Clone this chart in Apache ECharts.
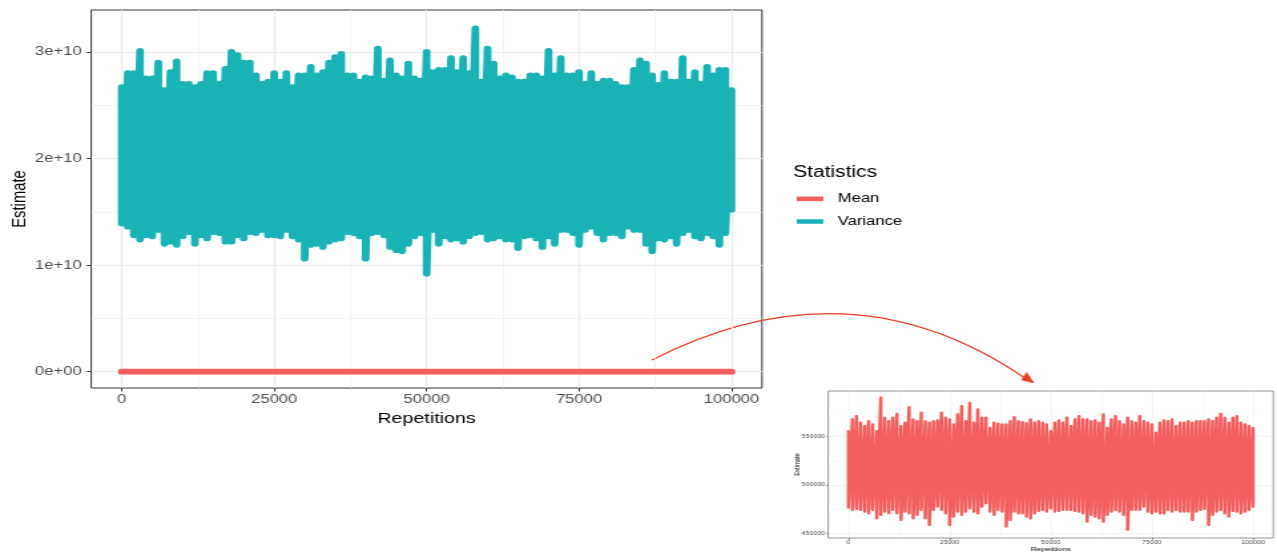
<!DOCTYPE html>
<html>
<head>
<meta charset="utf-8">
<script src="https://cdn.jsdelivr.net/npm/echarts@6/dist/echarts.min.js"></script>
<style>
  html, body { margin: 0; padding: 0; background: #ffffff; }
  #frame { width: 1277px; height: 553px; overflow: hidden; }
  /* the figure is laid out narrow and widened horizontally, like the exported plot */
  #chart { width: 960px; height: 553px; transform: scaleX(1.3302); transform-origin: 0 0; }
</style>
</head>
<body>
<div id="frame"><div id="chart"></div></div>
<script>
// ---- data: upper / lower extremes of each block of 1000 repetitions ----
const REP_STEP = 1000;          // repetitions per block
const VAR_UNIT = 1e10;          // variance values below are in units of 1e10

const varianceHigh = [
  2.67, 2.80, 2.80, 3.01, 2.75, 2.75, 2.90, 2.64, 2.81, 2.91,
  2.70, 2.70, 2.67, 2.70, 2.80, 2.80, 2.70, 2.84, 3.00, 2.97,
  2.90, 2.90, 2.78, 2.70, 2.72, 2.80, 2.72, 2.80, 2.67, 2.78,
  2.78, 2.86, 2.78, 2.81, 2.90, 2.95, 2.98, 2.78, 2.78, 2.72,
  2.76, 2.75, 3.03, 2.73, 2.92, 2.78, 2.75, 2.89, 2.75, 2.73,
  3.00, 2.81, 2.83, 2.83, 2.94, 2.81, 2.94, 2.80, 3.22, 2.72,
  3.03, 2.89, 2.75, 2.78, 2.76, 2.72, 2.72, 2.78, 2.78, 2.75,
  3.01, 2.78, 2.94, 2.78, 2.78, 2.81, 2.70, 2.80, 2.70, 2.73,
  2.73, 2.70, 2.67, 2.67, 2.83, 2.92, 2.89, 2.78, 2.69, 2.80,
  2.72, 2.72, 2.94, 2.72, 2.81, 2.70, 2.86, 2.78, 2.83, 2.83,
  2.64
];
const varianceLow = [
  1.39, 1.36, 1.28, 1.24, 1.28, 1.27, 1.33, 1.20, 1.22, 1.19,
  1.27, 1.31, 1.20, 1.28, 1.25, 1.31, 1.30, 1.22, 1.22, 1.28,
  1.25, 1.31, 1.30, 1.33, 1.28, 1.28, 1.27, 1.33, 1.27, 1.24,
  1.06, 1.19, 1.20, 1.17, 1.22, 1.24, 1.25, 1.31, 1.30, 1.27,
  1.06, 1.30, 1.31, 1.28, 1.17, 1.14, 1.13, 1.20, 1.27, 1.30,
  0.92, 1.33, 1.20, 1.27, 1.24, 1.25, 1.22, 1.27, 1.30, 1.31,
  1.24, 1.25, 1.27, 1.24, 1.24, 1.16, 1.27, 1.28, 1.25, 1.17,
  1.27, 1.20, 1.33, 1.33, 1.30, 1.19, 1.33, 1.36, 1.30, 1.24,
  1.30, 1.30, 1.27, 1.36, 1.33, 1.33, 1.20, 1.13, 1.25, 1.24,
  1.27, 1.20, 1.30, 1.33, 1.27, 1.25, 1.30, 1.27, 1.19, 1.30,
  1.52
];
const meanHigh = [
  555700, 567800, 571200, 564300, 560900, 566000, 562600, 555700, 590200, 569500,
  566000, 569500, 573600, 560900, 564300, 580500, 567800, 566000, 574700, 566000,
  564300, 566000, 566700, 574700, 569500, 567800, 562600, 572900, 581600, 566000,
  585000, 564300, 578100, 569500, 569500, 559100, 564300, 563300, 562600, 562600,
  566000, 570200, 566000, 565000, 564000, 567800, 564300, 566000, 564300, 562600,
  555700, 564300, 566700, 564300, 569500, 560900, 567800, 571200, 567800, 567800,
  566000, 566700, 564300, 572900, 559100, 567800, 571200, 566000, 562600, 569500,
  566000, 564300, 571200, 566000, 564300, 562600, 554000, 564300, 566700, 566000,
  567800, 560900, 564300, 564300, 566000, 564300, 566000, 566000, 566000, 567800,
  566000, 569500, 573600, 569500, 564300, 569500, 571200, 564300, 562600, 560900,
  559100
];
const meanLow = [
  476700, 474300, 475300, 474300, 472500, 470800, 474300, 465600, 469100, 472500,
  470800, 474300, 470800, 463900, 472500, 470800, 465600, 469100, 474300, 465600,
  458700, 474300, 477700, 474300, 470800, 458700, 467400, 472500, 469100, 472500,
  476000, 472500, 470800, 477700, 481200, 472500, 469100, 474300, 472500, 457000,
  463900, 472500, 470800, 470800, 467400, 465600, 470800, 473200, 474300, 472500,
  476000, 472500, 473200, 474300, 474300, 474300, 473200, 472500, 470800, 462200,
  469100, 467400, 465600, 462200, 469100, 472500, 474300, 472500, 469100, 453600,
  474300, 474300, 474300, 477700, 472500, 470800, 472500, 470800, 470800, 474300,
  472500, 474300, 472500, 472500, 472500, 463900, 472500, 474300, 475300, 458700,
  469100, 472500, 474300, 470800, 467400, 473200, 472500, 470800, 472500, 474300,
  477700
];

// ---- ticks ----
const repTicks = [0, 25000, 50000, 75000, 100000];
const repMinor = [12500, 37500, 62500, 87500];
const estTicks = [0, 1e10, 2e10, 3e10];
const estTickLabels = ['0e+00', '1e+10', '2e+10', '3e+10'];
const estMinor = [0.5e10, 1.5e10, 2.5e10];
const meanTicks = [450000, 500000, 550000];
const meanMinor = [475000, 525000, 575000];

const FONT = "'Liberation Sans', Arial, Helvetica, sans-serif";
const RED = '#F25E5B';
const TEAL = '#19B3B7';

// each block is drawn as a vertical stroke from its high to its low value
function blockTrace(high, low, unit) {
  const pts = [];
  high.forEach((h, i) => {
    const rep = i * REP_STEP;
    pts.push([rep, h * unit], [rep, low[i] * unit]);
  });
  return pts;
}

const plain = v => String(v);

function majorX(gridIndex, o) {
  return {
    gridIndex, type: 'value', min: -5000, max: 105000,
    axisLine: { show: false, onZero: false },
    axisTick: { show: true, customValues: repTicks, length: o.tick, lineStyle: { color: o.tickColor, width: 1 } },
    axisLabel: { customValues: repTicks, formatter: plain, color: '#4D4D4D', fontSize: o.font, fontFamily: FONT, margin: o.margin },
    splitLine: { show: true, lineStyle: { color: o.grid, width: o.gridW } },
    name: 'Repetitions', nameLocation: 'middle', nameGap: o.nameGap, nameMoveOverlap: false,
    nameTextStyle: { color: '#000', fontSize: o.nameFont, fontFamily: FONT }
  };
}
function minorAxis(gridIndex, min, max, values, o) {
  return {
    gridIndex, type: 'value', min, max,
    axisLine: { show: false, onZero: false },
    axisTick: { show: false, customValues: values },
    axisLabel: { show: false, customValues: values },
    splitLine: { show: true, lineStyle: { color: o.grid, width: o.gridW } }
  };
}

const option = {
  animation: false,
  backgroundColor: '#ffffff',
  textStyle: { fontFamily: FONT },
  title: {
    text: 'Statistics', left: 596.2, top: 163.7, padding: 0,
    textStyle: { fontSize: 15.8, fontWeight: 'normal', color: '#000', fontFamily: FONT, lineHeight: 18 }
  },
  legend: {
    data: ['Mean', 'Variance'],
    orient: 'vertical', left: 599, top: 191.8, padding: 0,
    icon: 'rect', itemWidth: 20, itemHeight: 4.5, itemGap: 8.7,
    selectedMode: false,
    textStyle: { fontSize: 12.5, color: '#000', fontFamily: FONT, lineHeight: 14, padding: [0, 0, 0, 5.8] }
  },
  grid: [
    { left: 68.6, top: 10, width: 504.2, height: 378, containLabel: false, outerBoundsMode: 'none',
      show: true, borderColor: '#333333', borderWidth: 1, backgroundColor: 'transparent' },
    { left: 622.6, top: 391, width: 334.6, height: 147, containLabel: false, outerBoundsMode: 'none',
      show: true, borderColor: '#7a7a7a', borderWidth: 0.8, backgroundColor: 'transparent' }
  ],
  xAxis: [
    majorX(0, { tick: 3.5, tickColor: '#333', font: 12.5, margin: 5, grid: '#EBEBEB', gridW: 1.1, nameGap: 23, nameFont: 14.8 }),
    minorAxis(0, -5000, 105000, repMinor, { grid: '#EFEFEF', gridW: 0.7 }),
    majorX(1, { tick: 1.5, tickColor: '#666', font: 5.3, margin: 2, grid: '#EDEDED', gridW: 0.6, nameGap: 8, nameFont: 6 }),
    minorAxis(1, -5000, 105000, repMinor, { grid: '#F3F3F3', gridW: 0.5 })
  ],
  yAxis: [
    {
      gridIndex: 0, type: 'value', min: -0.1528e10, max: 3.3927e10,
      axisLine: { show: false, onZero: false },
      axisTick: { show: true, customValues: estTicks, length: 3.4, lineStyle: { color: '#333', width: 1 } },
      axisLabel: {
        customValues: estTicks, color: '#4D4D4D', fontSize: 12.5, fontFamily: FONT, margin: 7.2,
        formatter: v => estTickLabels[estTicks.indexOf(v)]
      },
      splitLine: { show: true, lineStyle: { color: '#EBEBEB', width: 1.1 } },
      name: 'Estimate', nameLocation: 'middle', nameRotate: 90, nameGap: 46.5, nameMoveOverlap: false,
      nameTextStyle: { color: '#000', fontSize: 14.8, fontFamily: FONT }
    },
    minorAxis(0, -0.1528e10, 3.3927e10, estMinor, { grid: '#EFEFEF', gridW: 0.7 }),
    {
      gridIndex: 1, type: 'value', min: 445100, max: 597300,
      axisLine: { show: false, onZero: false },
      axisTick: { show: true, customValues: meanTicks, length: 1.5, lineStyle: { color: '#666', width: 0.8 } },
      axisLabel: { customValues: meanTicks, formatter: plain, color: '#4D4D4D', fontSize: 5.3, fontFamily: FONT, margin: 2.3 },
      splitLine: { show: true, lineStyle: { color: '#EDEDED', width: 0.6 } },
      name: 'Estimate', nameLocation: 'middle', nameRotate: 90, nameGap: 20.5, nameMoveOverlap: false,
      nameTextStyle: { color: '#000', fontSize: 5.8, fontFamily: FONT }
    },
    minorAxis(1, 445100, 597300, meanMinor, { grid: '#F3F3F3', gridW: 0.5 })
  ],
  series: [
    {
      name: 'Mean', type: 'line', xAxisIndex: 0, yAxisIndex: 0,
      data: blockTrace(meanHigh, meanLow, 1),
      showSymbol: false, color: RED,
      lineStyle: { width: 5.8, color: RED, cap: 'round', join: 'round' }
    },
    {
      name: 'Variance', type: 'line', xAxisIndex: 0, yAxisIndex: 0,
      data: blockTrace(varianceHigh, varianceLow, VAR_UNIT),
      showSymbol: false, color: TEAL,
      lineStyle: { width: 5.8, color: TEAL, cap: 'round', join: 'round' }
    },
    {
      name: 'Mean', type: 'line', xAxisIndex: 2, yAxisIndex: 2,
      data: blockTrace(meanHigh, meanLow, 1),
      showSymbol: false, color: RED,
      lineStyle: { width: 2.5, color: RED, cap: 'round', join: 'round' }
    }
  ],
  graphic: [
    {
      type: 'bezierCurve', silent: true,
      shape: { x1: 490.2, y1: 360, cpx1: 639.8, cpy1: 258.5, x2: 772, y2: 379.5 },
      style: { stroke: '#EE3A24', lineWidth: 1.3, fill: null }
    },
    {
      type: 'polygon', silent: true,
      shape: { points: [[777.3, 383], [768.0, 379.9], [771.8, 372.5]] },
      style: { fill: '#EE3A24', stroke: '#EE3A24', lineWidth: 0.5 }
    }
  ]
};

const chart = echarts.init(document.getElementById('chart'), null, { renderer: 'canvas' });
chart.setOption(option);
</script>
</body>
</html>
